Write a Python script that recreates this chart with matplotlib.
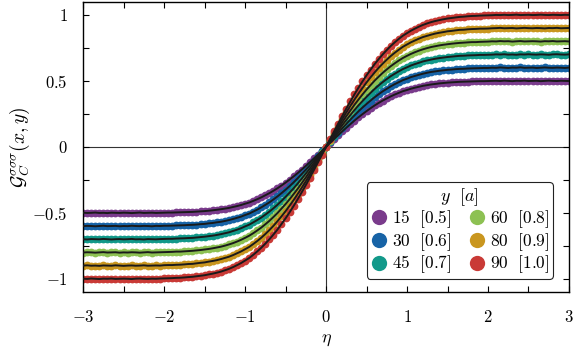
import numpy as np
import matplotlib
matplotlib.use('Agg')
import matplotlib.pyplot as plt
from matplotlib.lines import Line2D

plt.rcParams['font.family'] = 'serif'
plt.rcParams['font.serif'] = ['cmr10', 'DejaVu Serif']
plt.rcParams['mathtext.fontset'] = 'cm'
plt.rcParams['axes.formatter.use_mathtext'] = True

# ---------------- data ----------------
eta = np.linspace(-3.0, 3.0, 121)

s15 = [
 -0.499,-0.501,-0.500,-0.498,-0.501,-0.500,-0.502,-0.499,-0.500,-0.501,
 -0.499,-0.500,-0.502,-0.500,-0.498,-0.501,-0.500,-0.499,-0.501,-0.500,
 -0.499,-0.498,-0.498,-0.497,-0.496,-0.495,-0.494,-0.493,-0.491,-0.489,
 -0.487,-0.484,-0.481,-0.477,-0.473,-0.468,-0.463,-0.456,-0.449,-0.441,
 -0.431,-0.422,-0.410,-0.397,-0.383,-0.367,-0.351,-0.333,-0.314,-0.293,
 -0.271,-0.248,-0.224,-0.199,-0.172,-0.145,-0.117,-0.088,-0.059,-0.030,
 0.000,
 0.030,0.059,0.088,0.117,0.145,0.172,0.199,0.224,0.248,0.271,
 0.293,0.314,0.333,0.351,0.367,0.383,0.397,0.410,0.422,0.431,
 0.441,0.449,0.456,0.463,0.468,0.473,0.477,0.481,0.484,0.487,
 0.489,0.491,0.493,0.494,0.495,0.496,0.497,0.498,0.498,0.499,
 0.500,0.501,0.499,0.502,0.500,0.498,0.501,0.500,0.502,0.499,
 0.500,0.501,0.498,0.500,0.502,0.500,0.499,0.501,0.500,0.499]

s30 = [
 -0.601,-0.599,-0.600,-0.602,-0.600,-0.598,-0.601,-0.600,-0.599,-0.602,
 -0.600,-0.601,-0.598,-0.600,-0.601,-0.599,-0.600,-0.602,-0.599,-0.600,
 -0.598,-0.598,-0.597,-0.596,-0.595,-0.594,-0.592,-0.591,-0.589,-0.586,
 -0.584,-0.580,-0.577,-0.572,-0.568,-0.562,-0.555,-0.547,-0.538,-0.529,
 -0.517,-0.506,-0.491,-0.476,-0.459,-0.440,-0.421,-0.399,-0.376,-0.351,
 -0.325,-0.298,-0.269,-0.238,-0.206,-0.174,-0.140,-0.106,-0.071,-0.035,
 0.000,
 0.035,0.071,0.106,0.140,0.174,0.206,0.238,0.269,0.298,0.325,
 0.351,0.376,0.399,0.421,0.440,0.459,0.476,0.491,0.506,0.517,
 0.529,0.538,0.547,0.555,0.562,0.568,0.572,0.577,0.580,0.584,
 0.586,0.589,0.591,0.592,0.594,0.595,0.596,0.597,0.598,0.598,
 0.600,0.599,0.602,0.600,0.598,0.601,0.600,0.603,0.599,0.600,
 0.601,0.598,0.600,0.602,0.600,0.599,0.601,0.600,0.598,0.601]

s45 = [
 -0.700,-0.702,-0.699,-0.700,-0.701,-0.698,-0.700,-0.702,-0.700,-0.699,
 -0.701,-0.700,-0.698,-0.701,-0.700,-0.702,-0.699,-0.700,-0.701,-0.699,
 -0.698,-0.697,-0.697,-0.695,-0.694,-0.693,-0.691,-0.690,-0.687,-0.684,
 -0.681,-0.677,-0.673,-0.668,-0.662,-0.655,-0.648,-0.638,-0.628,-0.617,
 -0.603,-0.590,-0.573,-0.555,-0.536,-0.514,-0.491,-0.466,-0.439,-0.410,
 -0.379,-0.347,-0.314,-0.278,-0.241,-0.203,-0.164,-0.123,-0.083,-0.041,
 0.000,
 0.041,0.083,0.123,0.164,0.203,0.241,0.278,0.314,0.347,0.379,
 0.410,0.439,0.466,0.491,0.514,0.536,0.555,0.573,0.590,0.603,
 0.617,0.628,0.638,0.648,0.655,0.662,0.668,0.673,0.677,0.681,
 0.684,0.687,0.690,0.691,0.693,0.694,0.695,0.697,0.697,0.698,
 0.699,0.701,0.700,0.702,0.699,0.700,0.698,0.701,0.700,0.702,
 0.700,0.699,0.701,0.700,0.698,0.701,0.702,0.700,0.699,0.701]

s60 = [
 -0.801,-0.799,-0.800,-0.802,-0.800,-0.798,-0.801,-0.800,-0.799,-0.802,
 -0.800,-0.801,-0.799,-0.800,-0.802,-0.800,-0.798,-0.801,-0.800,-0.799,
 -0.798,-0.797,-0.796,-0.794,-0.794,-0.792,-0.790,-0.788,-0.785,-0.782,
 -0.778,-0.774,-0.769,-0.763,-0.757,-0.749,-0.740,-0.730,-0.718,-0.705,
 -0.690,-0.674,-0.655,-0.634,-0.612,-0.587,-0.561,-0.532,-0.502,-0.468,
 -0.434,-0.397,-0.358,-0.318,-0.275,-0.232,-0.187,-0.141,-0.094,-0.047,
 0.000,
 0.047,0.094,0.141,0.187,0.232,0.275,0.318,0.358,0.397,0.434,
 0.468,0.502,0.532,0.561,0.587,0.612,0.634,0.655,0.674,0.690,
 0.705,0.718,0.730,0.740,0.749,0.757,0.763,0.769,0.774,0.778,
 0.782,0.785,0.788,0.790,0.792,0.794,0.794,0.796,0.797,0.798,
 0.800,0.799,0.802,0.800,0.801,0.798,0.800,0.802,0.799,0.800,
 0.801,0.800,0.798,0.801,0.800,0.802,0.799,0.800,0.801,0.799]

s80 = [
 -0.900,-0.898,-0.901,-0.900,-0.902,-0.899,-0.900,-0.901,-0.898,-0.900,
 -0.902,-0.900,-0.899,-0.901,-0.900,-0.898,-0.901,-0.900,-0.899,-0.900,
 -0.897,-0.896,-0.896,-0.894,-0.893,-0.891,-0.888,-0.887,-0.883,-0.879,
 -0.876,-0.870,-0.865,-0.859,-0.851,-0.842,-0.833,-0.821,-0.807,-0.793,
 -0.776,-0.759,-0.737,-0.714,-0.689,-0.661,-0.631,-0.599,-0.564,-0.527,
 -0.488,-0.446,-0.403,-0.357,-0.310,-0.261,-0.211,-0.158,-0.106,-0.053,
 0.000,
 0.053,0.106,0.158,0.211,0.261,0.310,0.357,0.403,0.446,0.488,
 0.527,0.564,0.599,0.631,0.661,0.689,0.714,0.737,0.759,0.776,
 0.793,0.807,0.821,0.833,0.842,0.851,0.859,0.865,0.870,0.876,
 0.879,0.883,0.887,0.888,0.891,0.893,0.894,0.896,0.896,0.897,
 0.899,0.900,0.902,0.899,0.900,0.901,0.898,0.900,0.902,0.900,
 0.899,0.901,0.900,0.898,0.901,0.900,0.902,0.899,0.900,0.901]

s90 = [
 -0.999,-1.001,-0.998,-1.000,-1.002,-0.999,-1.000,-0.998,-1.001,-1.000,
 -0.999,-1.000,-1.002,-0.999,-0.998,-1.000,-1.001,-0.999,-1.000,-0.998,
 -0.997,-0.996,-0.995,-0.993,-0.992,-0.990,-0.987,-0.985,-0.981,-0.977,
 -0.973,-0.967,-0.961,-0.954,-0.946,-0.936,-0.925,-0.912,-0.897,-0.881,
 -0.862,-0.843,-0.819,-0.793,-0.765,-0.734,-0.701,-0.665,-0.627,-0.585,
 -0.542,-0.496,-0.448,-0.397,-0.344,-0.290,-0.234,-0.176,-0.118,-0.059,
 0.000,
 0.059,0.118,0.176,0.234,0.290,0.344,0.397,0.448,0.496,0.542,
 0.585,0.627,0.665,0.701,0.734,0.765,0.793,0.819,0.843,0.862,
 0.881,0.897,0.912,0.925,0.936,0.946,0.954,0.961,0.967,0.973,
 0.977,0.981,0.985,0.987,0.990,0.992,0.993,0.995,0.996,0.997,
 0.998,1.000,0.999,1.001,0.999,1.000,1.002,0.999,1.000,1.001,
 0.999,1.000,1.002,1.000,0.999,1.001,1.000,0.999,1.001,1.000]

series = [s15, s30, s45, s60, s80, s90]
labels = [r'$15\ \ [0.5]$', r'$30\ \ [0.6]$', r'$45\ \ [0.7]$',
          r'$60\ \ [0.8]$', r'$80\ \ [0.9]$', r'$90\ \ [1.0]$']
colors = ['#7a3b8c', '#1763a6', '#12998a', '#8dc153', '#c9961f', '#c93a36']

xticks = [-3, -2, -1, 0, 1, 2, 3]
xtick_labels = [r'$-3$', r'$-2$', r'$-1$', r'$0$', r'$1$', r'$2$', r'$3$']
yticks = [-1, -0.5, 0, 0.5, 1]
ytick_labels = [r'$-1$', r'$-0.5$', r'$0$', r'$0.5$', r'$1$']

# ---------------- figure ----------------
fig = plt.figure(figsize=(5.73, 3.48), dpi=100)
ax = fig.add_axes([0.145, 0.161, 0.848, 0.834])

ax.axhline(0, color='#333333', lw=0.8, zorder=1)
ax.axvline(0, color='#333333', lw=0.8, zorder=1)

for vals, c in zip(series, colors):
    ax.plot(eta, vals, 'o', ms=5.6, color=c, mec='none', zorder=2)
for vals in series:
    ax.plot(eta, vals, color='#1a1a1a', lw=1.4, zorder=4)

ax.set_xlim(-3, 3)
ax.set_ylim(-1.1, 1.1)
ax.set_xticks(xticks, xtick_labels)
ax.set_yticks(yticks, ytick_labels)
ax.set_xticks([-2.5, -1.5, -0.5, 0.5, 1.5, 2.5], minor=True)
ax.set_yticks([-0.75, -0.25, 0.25, 0.75], minor=True)
ax.tick_params(which='both', direction='in', top=True, right=True,
               length=4, width=0.8, labelsize=12)
ax.tick_params(axis='x', which='major', pad=12)
ax.tick_params(axis='y', which='major', pad=11)
for sp in ax.spines.values():
    sp.set_linewidth(1.0)

ax.set_xlabel(r'$\eta$', fontsize=13, labelpad=6)
ax.set_ylabel(r'$\mathcal{G}_C^{\sigma\sigma\sigma}(x,y)$', fontsize=14, labelpad=0)

handles = [Line2D([], [], marker='o', ls='none', ms=11, color=c, mec='none')
           for c in colors]
leg = ax.legend(handles, labels,
                ncol=2, title=r'$y\ \ [a]$', fontsize=12.5, title_fontsize=13,
                loc='lower right', bbox_to_anchor=(0.967, 0.045),
                borderaxespad=0.0,
                frameon=True, fancybox=True, framealpha=1,
                edgecolor='#222222', handlelength=1.0, handletextpad=0.25,
                columnspacing=1.0, labelspacing=0.05, borderpad=0.2)
leg.get_frame().set_linewidth(0.8)

fig.savefig('out.png', dpi=100)
